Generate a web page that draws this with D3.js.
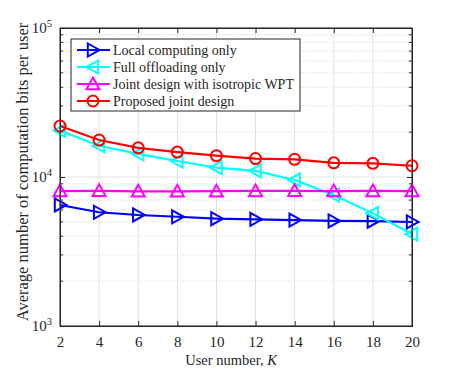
<!DOCTYPE html>
<html>
<head>
<meta charset="utf-8">
<script src="https://cdn.jsdelivr.net/npm/d3@7"></script>
<style>
  body { margin: 0; background: #fff; }
  svg text { font-family: "Liberation Serif", "Times New Roman", serif; fill: #262626; }
</style>
</head>
<body>
<svg id="chart" width="457" height="370"></svg>
<script>
// data
let userNumbers = [2, 4, 6, 8, 10, 12, 14, 16, 18, 20];
let localOnly     = [6490, 5800, 5560, 5410, 5250, 5200, 5140, 5070, 5050, 4990];
let fullOffload   = [20500, 16200, 14300, 12800, 11550, 11000, 9550, 7570, 5700, 4140];
let isotropicWPT  = [8050, 8080, 8020, 8020, 8030, 8060, 8080, 8040, 8060, 8040];
let proposed      = [22000, 17700, 15700, 14700, 13900, 13300, 13150, 12450, 12350, 11900];
let xTicks = [2, 4, 6, 8, 10, 12, 14, 16, 18, 20];
let yDecades = [1e3, 1e4, 1e5];

let seriesList = [
  { name: 'Local computing only', values: localOnly, color: '#0000ff', marker: 'right' },
  { name: 'Full offloading only', values: fullOffload, color: '#00ffff', marker: 'left' },
  { name: 'Joint design with isotropic WPT', values: isotropicWPT, color: '#ff00ff', marker: 'up' },
  { name: 'Proposed joint design', values: proposed, color: '#ff0000', marker: 'circle' }
];

let margin = { left: 60, right: 45, top: 28, bottom: 44 };
let width = 457, height = 370;
let plotW = width - margin.left - margin.right;
let plotH = height - margin.top - margin.bottom;

let svg = d3.select('#chart');
let g = svg.append('g').attr('transform', `translate(${margin.left},${margin.top})`);

let x = d3.scaleLinear().domain([2, 20]).range([0, plotW]);
let y = d3.scaleLog().domain([1e3, 1e5]).range([plotH, 0]);

// minor values between decades
let minorVals = [];
[1e3, 1e4].forEach(d => { for (let k = 2; k <= 9; k++) minorVals.push(d * k); });

// grid: vertical solid, horizontal minor dotted, major solid
g.append('g').selectAll('line').data(xTicks).join('line')
  .attr('x1', d => x(d)).attr('x2', d => x(d))
  .attr('y1', 0).attr('y2', plotH)
  .attr('stroke', '#e3e3e3').attr('stroke-width', 1);
g.append('g').selectAll('line').data(minorVals).join('line')
  .attr('x1', 0).attr('x2', plotW)
  .attr('y1', d => y(d)).attr('y2', d => y(d))
  .attr('stroke', '#d0d0d0').attr('stroke-width', 1).attr('stroke-dasharray', '1,2');
g.append('g').selectAll('line').data(yDecades).join('line')
  .attr('x1', 0).attr('x2', plotW)
  .attr('y1', d => y(d)).attr('y2', d => y(d))
  .attr('stroke', '#e3e3e3').attr('stroke-width', 1);

// axes
let axisColor = '#262626';
let xAxis = g.append('g').attr('transform', `translate(0,${plotH})`)
  .call(d3.axisBottom(x).tickValues(xTicks).tickSize(-5).tickPadding(10));
let xAxisTop = g.append('g')
  .call(d3.axisTop(x).tickValues(xTicks).tickSize(-5).tickFormat(''));
let yAxis = g.append('g')
  .call(d3.axisLeft(y).tickValues(yDecades).tickSize(-5).tickPadding(4).tickFormat(''));
let yAxisR = g.append('g').attr('transform', `translate(${plotW},0)`)
  .call(d3.axisRight(y).tickValues(yDecades).tickSize(-5).tickFormat(''));
[yAxis, yAxisR].forEach(ax => {
  ax.selectAll('.minor').data(minorVals).join('line').attr('class', 'minor')
    .attr('x1', 0).attr('x2', ax === yAxis ? 3 : -3)
    .attr('y1', d => y(d)).attr('y2', d => y(d))
    .attr('stroke', axisColor);
});
[xAxis, xAxisTop, yAxis, yAxisR].forEach(ax => {
  ax.select('.domain').attr('stroke', axisColor);
  ax.selectAll('.tick line').attr('stroke', axisColor);
});
xAxis.selectAll('text').attr('font-size', 15).attr('fill', axisColor)
  .attr('font-family', '"Liberation Serif", serif')
  .attr('dy', null).attr('y', 21);

// y decade labels 10^n
let yLab = g.append('g');
yDecades.forEach(d => {
  let t = yLab.append('text')
    .attr('x', -8).attr('y', y(d) + 5)
    .attr('text-anchor', 'end').attr('font-size', 15);
  t.append('tspan').text('10');
  t.append('tspan').attr('dy', -6).attr('font-size', 10.5).text(Math.round(Math.log10(d)));
});

// axis titles
let xTitle = svg.append('text')
  .attr('x', 231).attr('y', 365)
  .attr('text-anchor', 'middle').attr('font-size', 14.5);
xTitle.append('tspan').text('User number, ');
xTitle.append('tspan').attr('font-style', 'italic').text('K');

svg.append('text')
  .attr('transform', `translate(28,172) rotate(-90)`)
  .attr('text-anchor', 'middle').attr('font-size', 16.5)
  .text('Average number of computation bits per user');

// marker drawing
function drawMarker(sel, type, color) {
  let s = 6.5;
  if (type === 'circle') {
    sel.append('circle').attr('r', 5.5);
  } else {
    let pts;
    if (type === 'right') pts = [[-s * 0.8, -s], [s, 0], [-s * 0.8, s]];
    if (type === 'left') pts = [[s * 0.8, -s], [-s, 0], [s * 0.8, s]];
    if (type === 'up') pts = [[-s, s * 0.8], [0, -s], [s, s * 0.8]];
    sel.append('polygon').attr('points', pts.map(p => p.join(',')).join(' '));
  }
  sel.selectAll('circle,polygon').attr('fill', 'none').attr('stroke', color).attr('stroke-width', 2);
}

let line = d3.line().x((d, i) => x(userNumbers[i])).y(d => y(d));
let plot = g.append('g');
seriesList.forEach(s => {
  plot.append('path').datum(s.values)
    .attr('d', line).attr('fill', 'none')
    .attr('stroke', s.color).attr('stroke-width', 2.2);
  s.values.forEach((v, i) => {
    let m = plot.append('g').attr('transform', `translate(${x(userNumbers[i])},${y(v)})`);
    drawMarker(m, s.marker, s.color);
  });
});

// frame on top
g.append('rect').attr('width', plotW).attr('height', plotH)
  .attr('fill', 'none').attr('stroke', axisColor).attr('stroke-width', 1);

// legend
let legend = svg.append('g').attr('transform', 'translate(71,39)');
legend.append('rect').attr('width', 229).attr('height', 72)
  .attr('fill', '#fff').attr('stroke', axisColor).attr('stroke-width', 1);
seriesList.forEach((s, i) => {
  let row = legend.append('g').attr('transform', `translate(0,${11 + i * 17})`);
  row.append('line').attr('x1', 6).attr('x2', 39).attr('y1', 0).attr('y2', 0)
    .attr('stroke', s.color).attr('stroke-width', 2.2);
  let m = row.append('g').attr('transform', 'translate(22,0)');
  drawMarker(m, s.marker, s.color);
  row.append('text').attr('x', 42).attr('y', 5).attr('font-size', 14).text(s.name);
});
</script>
</body>
</html>
